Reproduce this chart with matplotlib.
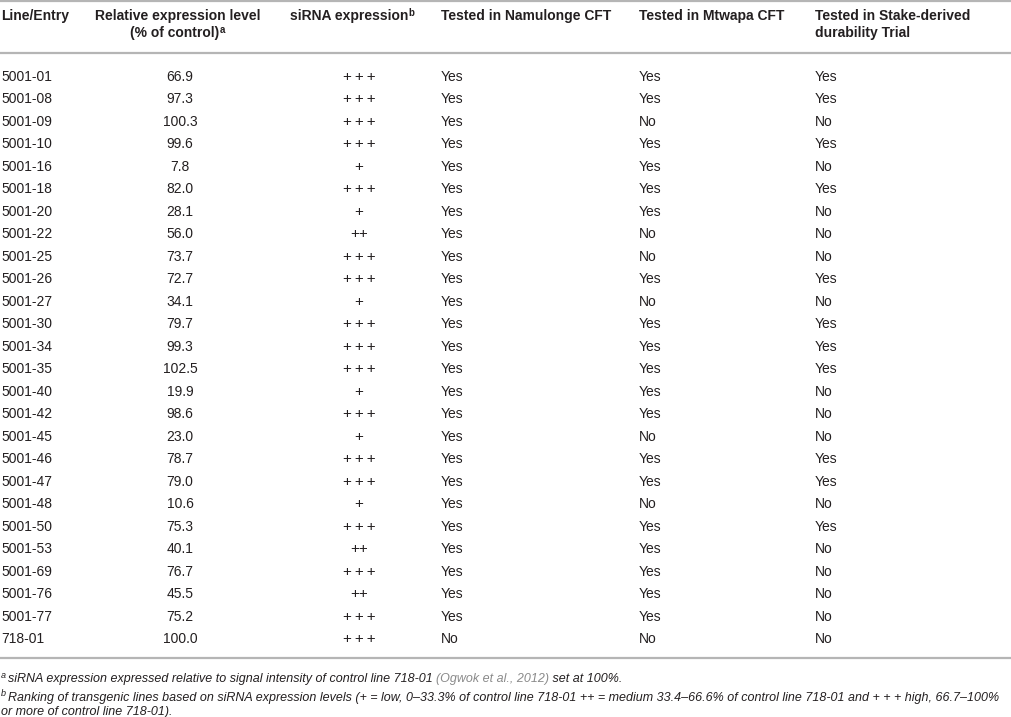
import matplotlib
matplotlib.use("Agg")
import matplotlib.pyplot as plt

plt.rcParams['font.family'] = ['Liberation Sans', 'DejaVu Sans']

lines = ["5001-01", "5001-08", "5001-09", "5001-10", "5001-16", "5001-18", "5001-20",
         "5001-22", "5001-25", "5001-26", "5001-27", "5001-30", "5001-34", "5001-35",
         "5001-40", "5001-42", "5001-45", "5001-46", "5001-47", "5001-48", "5001-50",
         "5001-53", "5001-69", "5001-76", "5001-77", "718-01"]
rel_expr = [66.9, 97.3, 100.3, 99.6, 7.8, 82.0, 28.1, 56.0, 73.7, 72.7, 34.1, 79.7, 99.3,
            102.5, 19.9, 98.6, 23.0, 78.7, 79.0, 10.6, 75.3, 40.1, 76.7, 45.5, 75.2, 100.0]
sirna = [3, 3, 3, 3, 1, 3, 1, 2, 3, 3, 1, 3, 3, 3, 1, 3, 1, 3, 3, 1, 3, 2, 3, 2, 3, 3]
namulonge = ["Yes"] * 25 + ["No"]
mtwapa = ["Yes", "Yes", "No", "Yes", "Yes", "Yes", "Yes", "No", "No", "Yes", "No", "Yes", "Yes",
          "Yes", "Yes", "Yes", "No", "Yes", "Yes", "No", "Yes", "Yes", "Yes", "Yes", "Yes", "No"]
stake = ["Yes", "Yes", "No", "Yes", "No", "Yes", "No", "No", "No", "Yes", "No", "Yes", "Yes",
         "Yes", "No", "No", "No", "Yes", "Yes", "No", "Yes", "No", "No", "No", "No", "No"]

headers = [("Line/Entry", ""), ("Relative expression level", "(% of control)"),
           ("siRNA expression", ""), ("Tested in Namulonge CFT", ""),
           ("Tested in Mtwapa CFT", ""), ("Tested in Stake-derived", "durability Trial")]
header_sup = {1: "a", 2: "b"}

foot_a = "siRNA expression expressed relative to signal intensity of control line 718-01 "
foot_a_ref = "(Ogwok et al., 2012)"
foot_a_end = " set at 100%."
foot_b = ["Ranking of transgenic lines based on siRNA expression levels (+ = low, 0\u201333.3% of control line 718-01 ++ = medium 33.4\u201366.6% of control line 718-01 and + + + high, 66.7\u2013100%",
          "or more of control line 718-01)."]

W, H = 1012, 717
fig = plt.figure(figsize=(W / 100, H / 100), dpi=100)
ax = fig.add_axes([0, 0, 1, 1])
ax.set_xlim(0, W)
ax.set_ylim(H, 0)
ax.axis("off")

txt = "#231f20"
rule = "#b5b5b5"
fs = 10

for y in (1, 53, 658):
    ax.axhline(y, color=rule, lw=1.6)

# column x positions and alignment
cols = [(1, "left"), (180, "center"), (359, "center"), (441, "left"), (639, "left"), (815, "left")]
hdr_x = [(1, "left"), (178, "center"), (290, "left"), (441, "left"), (639, "left"), (815, "left")]

fig.canvas.draw()
renderer = fig.canvas.get_renderer()

def sup_after(t, s, size):
    bb = t.get_window_extent(renderer)
    x0, ytop = ax.transData.inverted().transform((bb.x1, bb.y1))
    ax.text(x0 + 0.5, ytop - 1, s, fontsize=size, color=txt, fontweight="bold",
            fontstyle=t.get_fontstyle(), va="top", ha="left")

for i, (h1, h2) in enumerate(headers):
    x, ha = hdr_x[i]
    t1 = ax.text(x, 16, h1, fontsize=fs, fontweight="bold", color=txt, ha=ha, va="center")
    t2 = None
    if h2:
        t2 = ax.text(x, 33, h2, fontsize=fs, fontweight="bold", color=txt, ha=ha, va="center")
    if i in header_sup:
        tgt = t2 if t2 is not None else t1
        if i == 1:
            # superscript follows the second header line; shift so the pair stays centred
            tgt.set_x(x - 3)
        sup_after(tgt, header_sup[i], 7)

row0, dy = 76.7, 22.5
plus = {1: "+", 2: "++", 3: "+\u2009+\u2009+"}
for r in range(len(lines)):
    y = row0 + r * dy
    vals = [lines[r], f"{rel_expr[r]:.1f}", plus[sirna[r]], namulonge[r], mtwapa[r], stake[r]]
    for c, v in enumerate(vals):
        x, ha = cols[c]
        size = 11 if c == 2 else fs
        ax.text(x, y, v, fontsize=size, color=txt, ha=ha, va="center")

ffs = 9.0
fa = ax.text(8, 679, foot_a, fontsize=ffs, style="italic", color=txt, va="center", ha="left")
ax.text(1, 675, "a", fontsize=6.5, style="italic", color=txt, va="center", ha="left")
bb = fa.get_window_extent(renderer)
xr = ax.transData.inverted().transform((bb.x1, 0))[0]
fr = ax.text(xr, 679, foot_a_ref, fontsize=ffs, style="italic", color="#8a8a8a", va="center", ha="left")
bb = fr.get_window_extent(renderer)
xr = ax.transData.inverted().transform((bb.x1, 0))[0]
ax.text(xr, 679, foot_a_end, fontsize=ffs, style="italic", color=txt, va="center", ha="left")

ax.text(1, 694, "b", fontsize=6.5, style="italic", color=txt, va="center", ha="left")
ax.text(8, 698, foot_b[0], fontsize=ffs, style="italic", color=txt, va="center", ha="left")
ax.text(1, 712, foot_b[1], fontsize=ffs, style="italic", color=txt, va="center", ha="left")

fig.savefig("out.png", dpi=100)
